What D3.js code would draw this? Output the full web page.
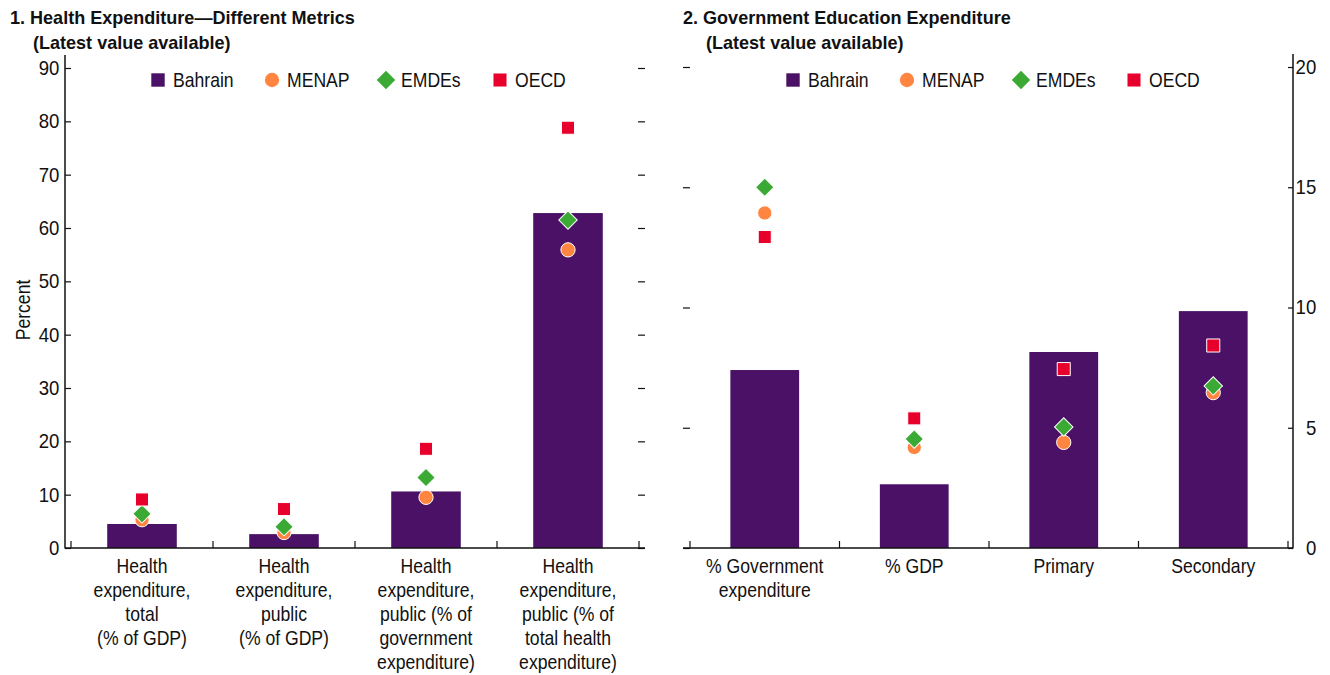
<!DOCTYPE html>
<html>
<head>
<meta charset="utf-8">
<script src="https://cdn.jsdelivr.net/npm/d3@7"></script>
<style>
  html, body { margin: 0; padding: 0; background: #fff; }
  svg { display: block; }
  text { font-family: "Liberation Sans", Arial, sans-serif; fill: #111; }
</style>
</head>
<body>
<svg id="chart" width="1330" height="675"></svg>
<script>
// ---------- Data ----------
const seriesNames = ["Bahrain", "MENAP", "EMDEs", "OECD"];

const categories1 = [
  ["Health", "expenditure,", "total", "(% of GDP)"],
  ["Health", "expenditure,", "public", "(% of GDP)"],
  ["Health", "expenditure,", "public (% of", "government", "expenditure)"],
  ["Health", "expenditure,", "public (% of", "total health", "expenditure)"]
];
const bahrain1 = [4.5, 2.6, 10.6, 62.8];
const menap1   = [5.3, 2.9, 9.5, 55.9];
const emde1    = [6.4, 4.0, 13.2, 61.5];
const oecd1    = [9.1, 7.3, 18.6, 78.8];
const ticks1   = [0, 10, 20, 30, 40, 50, 60, 70, 80, 90];

const categories2 = [
  ["% Government", "expenditure"],
  ["% GDP"],
  ["Primary"],
  ["Secondary"]
];
const bahrain2 = [7.4, 2.65, 8.15, 9.85];
const menap2   = [13.93, 4.18, 4.39, 6.46];
const emde2    = [15.0, 4.53, 5.03, 6.74];
const oecd2    = [12.93, 5.39, 7.44, 8.42];
const ticks2   = [0, 5, 10, 15, 20];

// ---------- Styles ----------
const colors = { Bahrain: "#4a1166", MENAP: "#ff8540", EMDEs: "#3aaa35", OECD: "#e8002d" };
const svg = d3.select("#chart");
const FS = 20;       // body font size
const K = 0.88;      // horizontal condensing for body text
const KT = 0.93;     // condensing for tick labels

function symbolPath(name, size) {
  if (name === "MENAP") return d3.symbol(d3.symbolCircle, size)();
  return d3.symbol(d3.symbolSquare, size)();
}

function condensedText(parent, x, y, k, anchor) {
  return parent.append("g").attr("transform", `translate(${x},${y}) scale(${k},1)`)
    .append("text").attr("x", 0).attr("y", 0).attr("text-anchor", anchor || "start");
}

function drawPanel(cfg) {
  const g = svg.append("g");
  const y = d3.scaleLinear().domain(cfg.yDomain).range([cfg.y0, cfg.y1]);
  const x = d3.scaleBand().domain(d3.range(cfg.cats.length))
    .range([cfg.bandL, cfg.bandR]).paddingInner(cfg.pad).paddingOuter(cfg.pad / 2);

  // Title
  condensedText(g, cfg.titleX, 24, 0.95).style("font-weight", "bold").style("font-size", "19px")
    .text(cfg.title);
  condensedText(g, cfg.titleX + 23, 49, 0.95).style("font-weight", "bold").style("font-size", "19px")
    .text("(Latest value available)");

  // Bars
  g.selectAll("rect.bar").data(cfg.bahrain).join("rect")
    .attr("class", "bar")
    .attr("x", (d, i) => x(i)).attr("width", x.bandwidth())
    .attr("y", d => y(d)).attr("height", d => y(0) - y(d))
    .attr("fill", colors.Bahrain);

  // Markers
  const markerSets = [
    { name: "MENAP", vals: cfg.menap, size: 160, rot: 0 },
    { name: "EMDEs", vals: cfg.emde, size: 170, rot: 45 },
    { name: "OECD",  vals: cfg.oecd, size: 170, rot: 0 }
  ];
  markerSets.forEach(ms => {
    g.selectAll(null).data(ms.vals).join("path")
      .attr("d", symbolPath(ms.name, ms.size))
      .attr("transform", (d, i) => `translate(${x(i) + x.bandwidth() / 2},${y(d)}) rotate(${ms.rot})`)
      .attr("fill", colors[ms.name])
      .attr("stroke", "#fff").attr("stroke-width", 1);
  });

  // Y axes
  const leftAxis = cfg.labelSide === "left"
    ? d3.axisLeft(y).tickValues(cfg.ticks).tickSize(-6).tickPadding(6)
    : d3.axisLeft(y).tickValues(cfg.ticks).tickSize(-7).tickFormat("");
  const rightAxis = cfg.labelSide === "right"
    ? d3.axisRight(y).tickValues(cfg.ticks).tickSize(-5).tickPadding(25)
    : d3.axisRight(y).tickValues(cfg.ticks).tickSize(-7).tickFormat("");

  const la = g.append("g").attr("transform", `translate(${cfg.plotL},0)`).call(leftAxis);
  const ra = g.append("g").attr("transform", `translate(${cfg.plotR},0)`).call(rightAxis);
  [la, ra].forEach(a => {
    a.select(".domain").remove();
    a.selectAll(".tick line").attr("stroke", "#111").attr("stroke-width", 1.2);
    a.selectAll(".tick text").style("font-size", FS + "px")
      .style("font-family", '"Liberation Sans", Arial, sans-serif').attr("fill", "#111")
      .attr("transform", `scale(${KT},1)`);
  });
  if (cfg.labelSide === "right") ra.selectAll(".tick text").attr("text-anchor", "end");

  const axisX = cfg.labelSide === "left" ? cfg.plotL : cfg.plotR;
  g.append("line").attr("x1", axisX).attr("x2", axisX)
    .attr("y1", cfg.y1 - 13).attr("y2", cfg.y0 + 0.5)
    .attr("stroke", "#111").attr("stroke-width", 1.5);

  // X baseline and category ticks
  g.append("line").attr("x1", cfg.plotL).attr("x2", cfg.plotR)
    .attr("y1", cfg.y0).attr("y2", cfg.y0).attr("stroke", "#111").attr("stroke-width", 1.5);
  const bounds = d3.range(cfg.cats.length + 1).map(i => cfg.bandL + i * x.step());
  g.selectAll(null).data(bounds).join("line")
    .attr("x1", d => d).attr("x2", d => d)
    .attr("y1", cfg.y0).attr("y2", cfg.y0 - 7)
    .attr("stroke", "#111").attr("stroke-width", 1.2);

  // Category labels
  cfg.cats.forEach((lines, i) => {
    const tx = condensedText(g, x(i) + x.bandwidth() / 2, cfg.y0 + 25, K, "middle")
      .style("font-size", FS + "px");
    lines.forEach((ln, j) => tx.append("tspan")
      .attr("x", 0).attr("dy", j === 0 ? 0 : 24).text(ln));
  });

  // Legend
  cfg.legendX.forEach((lx, i) => {
    const name = seriesNames[i];
    const rot = name === "EMDEs" ? 45 : 0;
    const size = name === "Bahrain" ? 180 : (name === "MENAP" ? 160 : 170);
    g.append("path").attr("d", symbolPath(name, size))
      .attr("transform", `translate(${lx},${80}) rotate(${rot})`)
      .attr("fill", colors[name]);
    condensedText(g, lx + 15, 87, K).style("font-size", FS + "px").text(name);
  });

  return g;
}

drawPanel({
  title: "1. Health Expenditure\u2014Different Metrics", titleX: 10,
  cats: categories1, bahrain: bahrain1, menap: menap1, emde: emde1, oecd: oecd1,
  ticks: ticks1, yDomain: [0, 90], y0: 548, y1: 68,
  plotL: 65, plotR: 645, bandL: 71, bandR: 639, pad: 0.51,
  labelSide: "left", legendX: [158, 272, 386, 500]
});

drawPanel({
  title: "2. Government Education Expenditure", titleX: 683,
  cats: categories2, bahrain: bahrain2, menap: menap2, emde: emde2, oecd: oecd2,
  ticks: ticks2, yDomain: [0, 20], y0: 548, y1: 67,
  plotL: 683, plotR: 1293, bandL: 690, bandR: 1288, pad: 0.54,
  labelSide: "right", legendX: [793, 907, 1021, 1134]
});

// Y-axis title
condensedText(svg.append("g").attr("transform", "translate(30,310) rotate(-90)"), 0, 0, K, "middle")
  .style("font-size", FS + "px").text("Percent");
</script>
</body>
</html>
